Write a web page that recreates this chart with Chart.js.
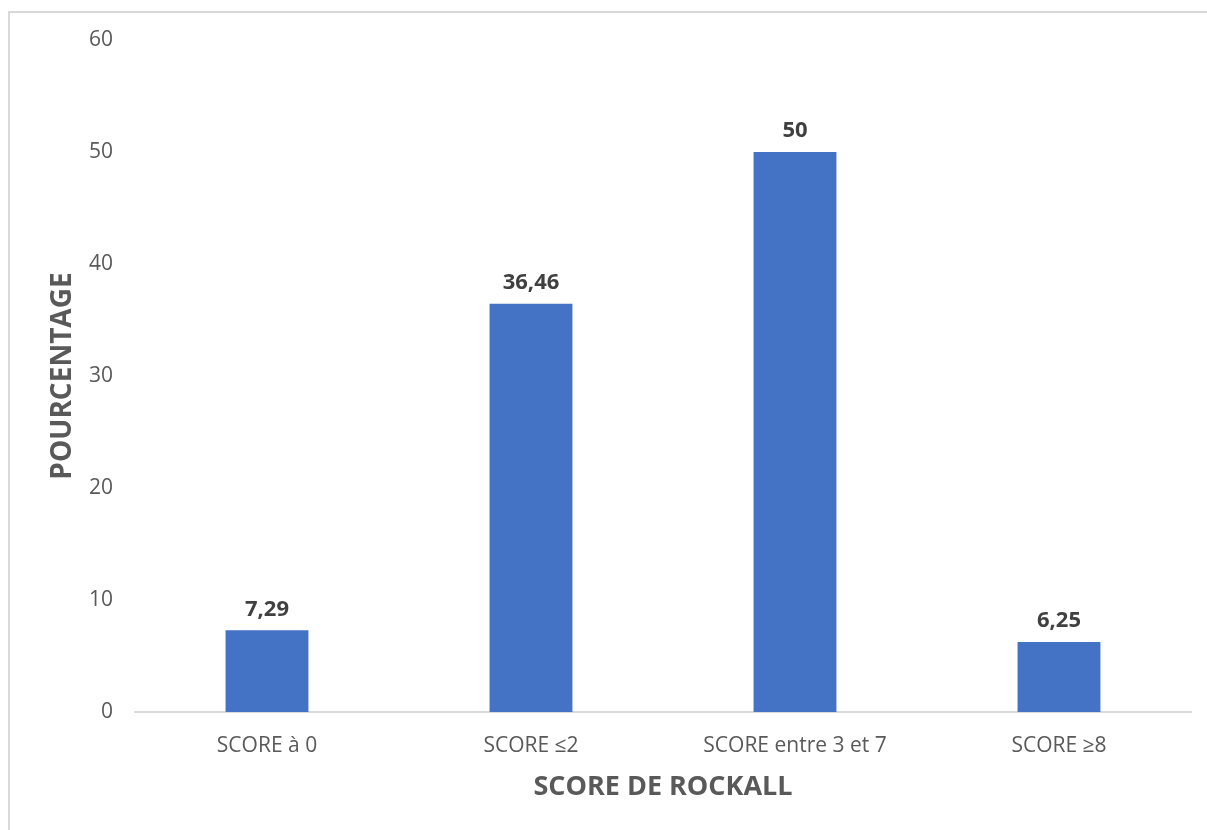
<!DOCTYPE html>
<html>
<head>
<meta charset="utf-8">
<script src="https://cdn.jsdelivr.net/npm/chart.js@4"></script>
<style>
  html, body { margin: 0; padding: 0; background: #fff; overflow: hidden; }
  #frame {
    position: absolute; left: 8px; top: 11px; width: 1230px; height: 850px;
    border-left: 2px solid #d9d9d9; border-top: 2px solid #d9d9d9;
  }
  #wrap { position: absolute; left: 0; top: 0; width: 1207px; height: 830px; }
</style>
</head>
<body>
<div id="frame"></div>
<div id="wrap"><canvas id="chart" width="1207" height="830"></canvas></div>
<script>
  var categories = ['SCORE à 0', 'SCORE ≤2', 'SCORE entre 3 et 7', 'SCORE ≥8'];
  var percentages = [7.29, 36.46, 50, 6.25];
  var yTicks = [0, 10, 20, 30, 40, 50, 60];

  var fontFamily = '"Open Sans", "Noto Sans", sans-serif';

  // value labels above each bar, decimal comma
  var barLabels = {
    id: 'barLabels',
    afterDatasetsDraw: function (chart) {
      var ctx = chart.ctx;
      var meta = chart.getDatasetMeta(0);
      ctx.save();
      ctx.font = 'bold 22px ' + fontFamily;
      ctx.fillStyle = '#404040';
      ctx.textAlign = 'center';
      ctx.textBaseline = 'middle';
      meta.data.forEach(function (bar, i) {
        var txt = String(percentages[i]).replace('.', ',');
        ctx.fillText(txt, bar.x, bar.y - 21);
      });
      ctx.restore();
    }
  };

  var ctx = document.getElementById('chart').getContext('2d');
  new Chart(ctx, {
    type: 'bar',
    data: {
      labels: categories,
      datasets: [{
        data: percentages,
        backgroundColor: '#4472c4',
        borderWidth: 0,
        barPercentage: 0.314,
        categoryPercentage: 1
      }]
    },
    options: {
      responsive: false,
      animation: false,
      layout: { padding: { left: 46, top: 40, right: 16, bottom: 0 } },
      plugins: { legend: { display: false }, tooltip: { enabled: false } },
      scales: {
        x: {
          grid: { display: false, drawTicks: false },
          border: { display: true, color: '#d9d9d9', width: 2 },
          ticks: { color: '#595959', padding: 21, font: { family: fontFamily, size: 21 } },
          title: {
            display: true, text: 'SCORE DE ROCKALL', color: '#595959',
            padding: { top: 0, bottom: 26 },
            font: { family: fontFamily, size: 27, weight: 'bold' }
          },
          afterFit: function (s) { s.height = 118; }
        },
        y: {
          min: 0, max: 60,
          grid: { display: false, drawTicks: false },
          border: { display: false },
          afterBuildTicks: function (s) { s.ticks = yTicks.map(function (v) { return { value: v }; }); },
          ticks: { color: '#595959', padding: 22, font: { family: fontFamily, size: 21 } },
          title: {
            display: true, text: 'POURCENTAGE', color: '#595959',
            padding: { top: 0, bottom: 0 },
            font: { family: fontFamily, size: 28, weight: 'bold' }
          },
          afterFit: function (s) { s.width = 89; }
        }
      }
    },
    plugins: [barLabels]
  });
</script>
</body>
</html>
